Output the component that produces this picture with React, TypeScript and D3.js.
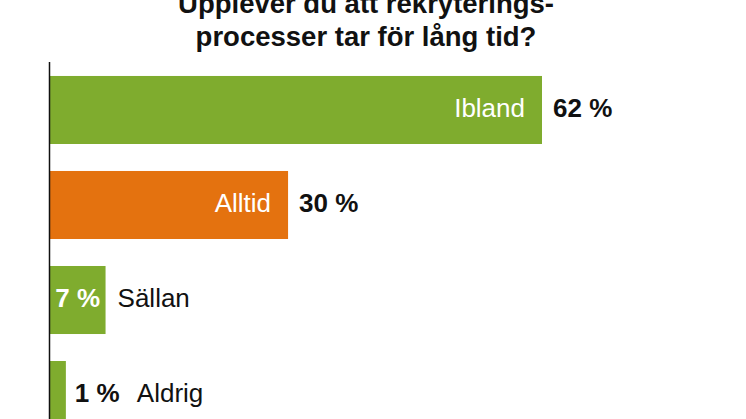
import React from "react";
import * as d3 from "d3";

const titleLines = ["Upplever du att rekryterings-", "processer tar för lång tid?"];
const categories = ["Ibland", "Alltid", "Sällan", "Aldrig"];
const values = [62, 30, 7, 1];
const valueLabels = ["62 %", "30 %", "7 %", "1 %"];
const colors = ["#7fac2e", "#e4720f", "#7fac2e", "#7fac2e"];

const W = 746;
const H = 419;
const FONT = "'Liberation Sans', Arial, Helvetica, sans-serif";
const FS = 26;

export default function App() {
  const x = d3.scaleLinear().domain([0, 62]).range([50, 542]);
  const y = d3
    .scaleBand<string>()
    .domain(categories)
    .range([62, 443])
    .paddingInner(0.284)
    .paddingOuter(0.147);
  const minW = x(2) - x(0);

  return (
    <svg
      width={W}
      height={H}
      style={{ position: "absolute", left: 0, top: 0, background: "#fff" }}
      fontFamily={FONT}
    >
      {titleLines.map((t, i) => (
        <text
          key={i}
          x={366}
          y={13 + i * 33}
          textAnchor="middle"
          fontSize={27.5}
          fontWeight="bold"
          fill="#111"
        >
          {t}
        </text>
      ))}
      {categories.map((c, i) => {
        const y0 = y(c)!;
        const bw = Math.max(x(values[i]) - x(0), minW);
        const x1 = x(0) + bw;
        const cy = y0 + y.bandwidth() / 2 + 7;
        const big = values[i] >= 20;
        const fits = values[i] >= 5;
        return (
          <g key={c}>
            <rect x={x(0)} y={y0} width={bw} height={y.bandwidth()} fill={colors[i]} />
            {big ? (
              <>
                <text x={x1 - 17} y={cy} textAnchor="end" fontSize={FS} fill="#fff">
                  {c}
                </text>
                <text x={x1 + 11} y={cy} fontSize={FS} fontWeight="bold" fill="#111">
                  {valueLabels[i]}
                </text>
              </>
            ) : fits ? (
              <>
                <text x={x(0) + bw / 2} y={cy} textAnchor="middle" fontSize={FS} fontWeight="bold" fill="#fff">
                  {valueLabels[i]}
                </text>
                <text x={x1 + 12} y={cy} fontSize={FS} fill="#111">
                  {c}
                </text>
              </>
            ) : (
              <>
                <text x={x1 + 9} y={cy} fontSize={FS} fontWeight="bold" fill="#111">
                  {valueLabels[i]}
                </text>
                <text x={x1 + 71} y={cy} fontSize={FS} fill="#111">
                  {c}
                </text>
              </>
            )}
          </g>
        );
      })}
      <line x1={49.5} x2={49.5} y1={62} y2={443} stroke="#111" strokeWidth={1.5} />
    </svg>
  );
}
